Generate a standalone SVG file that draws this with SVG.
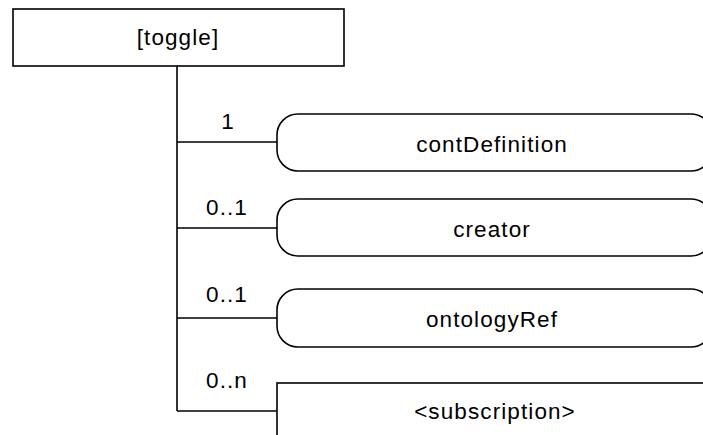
<svg xmlns="http://www.w3.org/2000/svg" width="703" height="435" viewBox="0 0 703 435">
<style>
.box{fill:#fff;stroke:#000;stroke-width:1.6}
.ln{fill:none;stroke:#000;stroke-width:1.6}
text{font-family:"Liberation Sans",Arial,sans-serif;font-size:22.5px;letter-spacing:1.1px;fill:#000}
.c{text-anchor:middle}
</style>
<rect width="703" height="435" fill="#fff"/>
<g id="connectors">
<path class="ln" d="M177 66V411M177 142H277M177 228H277M177 318H277M177 411H277"/>
<text class="c" x="228" y="129">1</text>
<text class="c" x="227" y="215">0..1</text>
<text class="c" x="227" y="302">0..1</text>
<text class="c" x="227" y="388">0..n</text>
</g>
<g id="toggle">
<rect class="box" x="13" y="9" width="331" height="57"/>
<text class="c" x="178" y="45">[toggle]</text>
</g>
<g id="contDefinition">
<rect class="box" x="277" y="114" width="435" height="57" rx="21" ry="21"/>
<text class="c" x="492" y="152">contDefinition</text>
</g>
<g id="creator">
<rect class="box" x="277" y="199" width="435" height="57" rx="21" ry="21"/>
<text class="c" x="492" y="237">creator</text>
</g>
<g id="ontologyRef">
<rect class="box" x="277" y="289" width="435" height="58" rx="21" ry="21"/>
<text class="c" x="492" y="327">ontologyRef</text>
</g>
<g id="subscription">
<rect class="box" x="277" y="383" width="440" height="70"/>
<text class="c" x="495" y="419">&lt;subscription&gt;</text>
</g>
</svg>
